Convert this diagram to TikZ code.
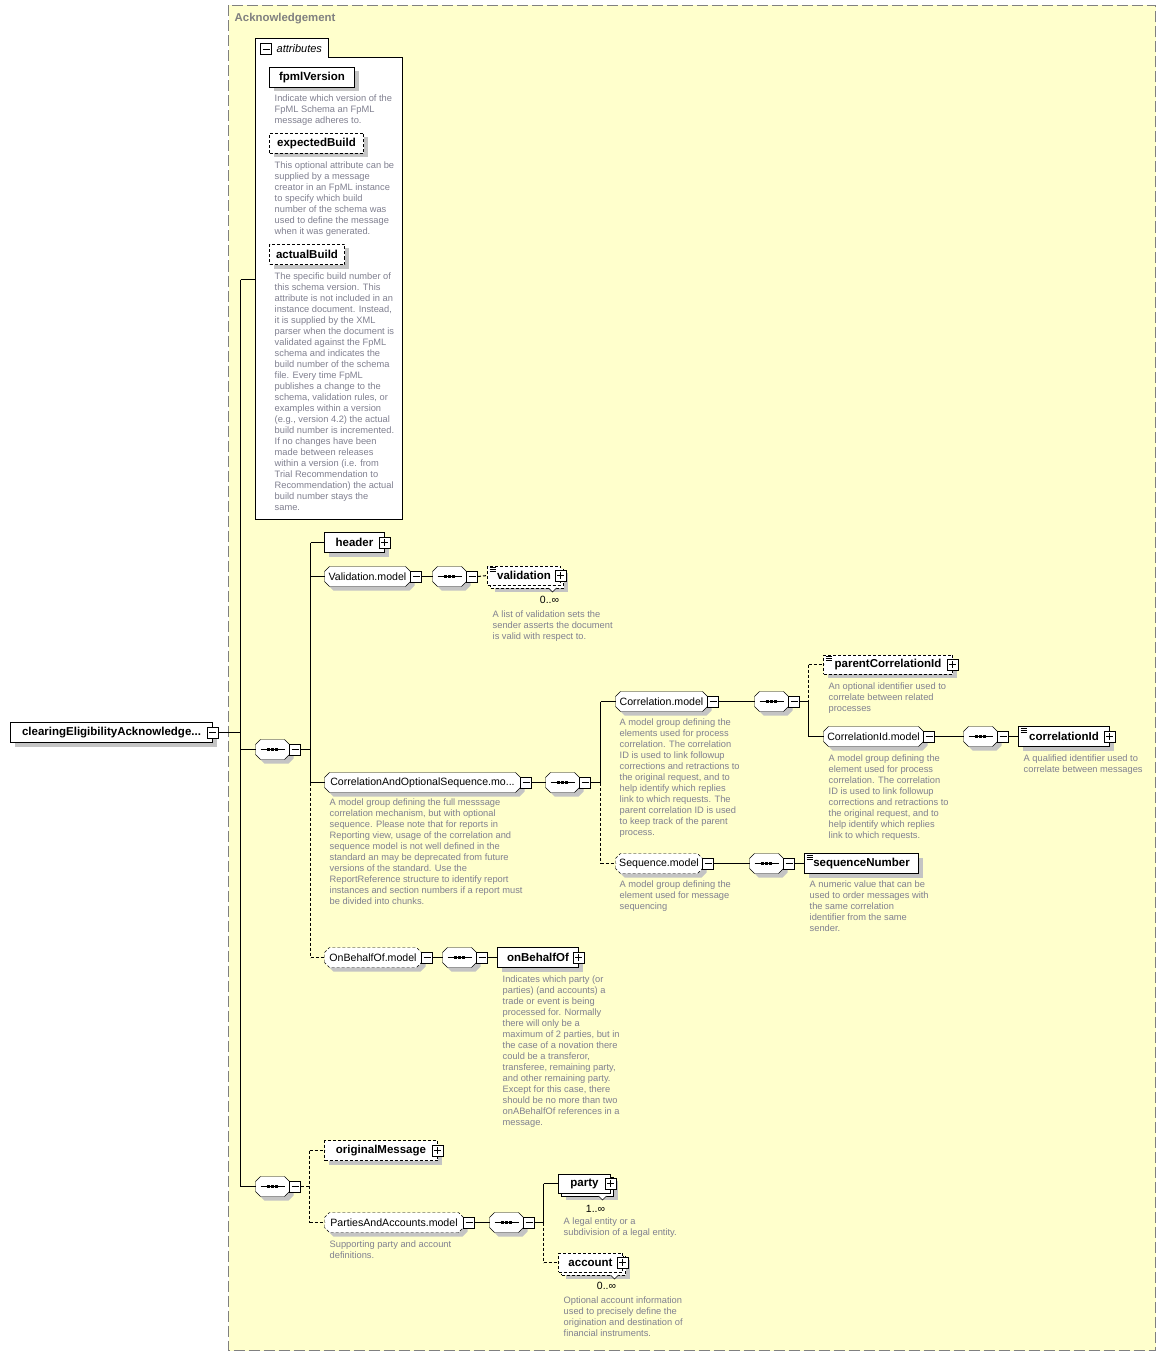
\documentclass[tikz,border=0pt]{standalone}
\usepackage{fontspec}
\setmainfont{Liberation Sans}
\usepackage{tikz}
\usetikzlibrary{fit}

\definecolor{paper}{RGB}{255,255,204}
\definecolor{frame}{RGB}{128,128,128}
\definecolor{shadowgray}{RGB}{196,196,196}
\definecolor{desctext}{RGB}{128,128,144}

\pgfdeclarelayer{bottom}
\pgfdeclarelayer{shadow}
\pgfsetlayers{bottom,shadow,main}

% octagon box for model groups and compositors
\makeatletter
\newdimen\octl \newdimen\octr \newdimen\octb \newdimen\octt
\pgfdeclareshape{octobox}{%
  \inheritsavedanchors[from=rectangle]%
  \inheritanchorborder[from=rectangle]%
  \inheritanchor[from=rectangle]{center}%
  \inheritanchor[from=rectangle]{north}%
  \inheritanchor[from=rectangle]{south}%
  \inheritanchor[from=rectangle]{west}%
  \inheritanchor[from=rectangle]{east}%
  \inheritanchor[from=rectangle]{north west}%
  \inheritanchor[from=rectangle]{north east}%
  \inheritanchor[from=rectangle]{south west}%
  \inheritanchor[from=rectangle]{south east}%
  \inheritanchor[from=rectangle]{base}%
  \inheritanchor[from=rectangle]{mid}%
  \backgroundpath{%
    \southwest \global\octl=\pgf@x \global\octb=\pgf@y
    \northeast \global\octr=\pgf@x \global\octt=\pgf@y
    \pgfpathmoveto{\pgfqpoint{\octl}{\dimexpr\octb+5pt\relax}}%
    \pgfpathlineto{\pgfqpoint{\octl}{\dimexpr\octt-5pt\relax}}%
    \pgfpathlineto{\pgfqpoint{\dimexpr\octl+5pt\relax}{\octt}}%
    \pgfpathlineto{\pgfqpoint{\dimexpr\octr-5pt\relax}{\octt}}%
    \pgfpathlineto{\pgfqpoint{\octr}{\dimexpr\octt-5pt\relax}}%
    \pgfpathlineto{\pgfqpoint{\octr}{\dimexpr\octb+5pt\relax}}%
    \pgfpathlineto{\pgfqpoint{\dimexpr\octr-5pt\relax}{\octb}}%
    \pgfpathlineto{\pgfqpoint{\dimexpr\octl+5pt\relax}{\octb}}%
    \pgfpathclose
  }%
}
\makeatother

\begin{document}
\begin{tikzpicture}[x=1pt, y=-1pt, line width=1pt,
    box/.style={draw, fill=white, rectangle, minimum height=20pt, inner sep=0pt, outer sep=0pt, anchor=west,
        font=\fontsize{11.5}{13}\selectfont\bfseries},
    elem/.style={box},
    opt/.style={dash pattern=on 3pt off 2pt},
    grp/.style={octobox, draw, fill=white, minimum height=20pt, inner sep=0pt, outer sep=0pt,
        anchor=west, font=\fontsize{10.6}{12}\selectfont},
    seqgrp/.style={grp, minimum width=34pt, path picture={
        \draw ([xshift=5pt]path picture bounding box.west) -- ([xshift=-5pt]path picture bounding box.east);
        \foreach \dx in {-4,0,4}
          \fill[black] ([xshift=\dx pt]path picture bounding box.center) +(-1.3pt,-1.3pt) rectangle +(1.3pt,1.3pt);}},
    pm/.style={draw, fill=white, line width=1pt, minimum size=11pt, inner sep=0pt},
    minus/.style={pm, path picture={
        \draw ([xshift=2pt]path picture bounding box.west) -- ([xshift=-2pt]path picture bounding box.east);}},
    plus/.style={pm, path picture={
        \draw ([xshift=2pt]path picture bounding box.west) -- ([xshift=-2pt]path picture bounding box.east);
        \draw ([yshift=-2pt]path picture bounding box.north) -- ([yshift=2pt]path picture bounding box.south);}},
    shadowbox/.style={fill=shadowgray, inner sep=0pt, outer sep=0pt, xshift=4pt, yshift=-4pt},
    wire/.style={line width=1pt},
    optwire/.style={wire, opt},
    desc/.style={anchor=north west, inner sep=0pt, align=left, text=desctext,
        font=\fontsize{9.3}{11}\selectfont},
    card/.style={inner sep=0pt, font=\fontsize{10.5}{12}\selectfont}]
    \useasboundingbox (-0.5,-0.5) rectangle (1164.5,1355.5);

    % Frame and attributes
    \begin{pgfonlayer}{bottom}
      \fill[white] (-0.5,-0.5) rectangle (1164.5,1355.5);
      \draw[frame, fill=paper, dash pattern=on 11pt off 4pt] (228,5) rectangle (1155,1350);
      \draw[fill=white] (255,519) -- (255,38) -- (328,38) -- (328,57) -- (402,57) -- (402,519) -- cycle;
    \end{pgfonlayer}
    \node[anchor=west, inner sep=0pt, text=frame, font=\fontsize{11.4}{13}\selectfont\bfseries] (ack) at (234,18) {Acknowledgement};
    \node[minus] (attr-m) at (265.5,49) {};
    \node[anchor=west, inner sep=0pt, font=\fontsize{11}{13}\selectfont\itshape] (attr-t) at (276,48) {attributes};
    \coordinate (attr-in) at (255,279);

    \node[elem, minimum width=85] (fpml) at (269,77) {fpmlVersion};
    \node[desc] (fpml-d) at (274,94.5) {Indicate which version of the\\FpML Schema an FpML\\message adheres to.};
    \node[elem, opt, minimum width=94] (expb) at (269,143) {expectedBuild};
    \node[desc] (expb-d) at (274,161.5) {This optional attribute can be\\supplied by a message\\creator in an FpML instance\\to specify which build\\number of the schema was\\used to define the message\\when it was generated.};
    \node[elem, opt, minimum width=75] (actb) at (269,254) {actualBuild};
    \node[desc] (actb-d) at (274,272.5) {The specific build number of\\this schema version. This\\attribute is not included in an\\instance document. Instead,\\it is supplied by the XML\\parser when the document is\\validated against the FpML\\schema and indicates the\\build number of the schema\\file. Every time FpML\\publishes a change to the\\schema, validation rules, or\\examples within a version\\(e.g., version 4.2) the actual\\build number is incremented.\\If no changes have been\\made between releases\\within a version (i.e. from\\Trial Recommendation to\\Recommendation) the actual\\build number stays the\\same.};

    % Root and first sequence
    \node[elem, minimum width=202] (root) at (10,732) {clearingEligibilityAcknowledge...};
    \node[minus] (root-m) at (root.east) {};
    \node[seqgrp] (seq1) at (255,749) {};
    \node[minus] (seq1-m) at ([xshift=5.5pt]seq1.east) {};

    \node[elem, minimum width=60] (header) at (324,542) {header};
    \node[plus] (header-p) at (header.east) {};

    \node[grp, minimum width=86] (valm) at (324,576) {Validation.model};
    \node[minus] (valm-m) at ([xshift=5.5pt]valm.east) {};
    \node[seqgrp] (valm-seq) at (432,576) {};
    \node[minus] (valm-seq-m) at ([xshift=5.5pt]valm-seq.east) {};
    \node[box, opt, minimum width=73, minimum height=19] (val-bk) at (490,578) {};
    \node[box, opt, minimum width=73, minimum height=19] (val) at (487,575) {validation};
    \node[plus] (val-p) at (val.east) {};
    \node[card] (val-c) at (549,599) {0..∞};
    \node[desc] (val-d) at (492,610.5) {A list of validation sets the\\sender asserts the document\\is valid with respect to.};

    \node[grp, minimum width=196] (cas) at (324,782) {CorrelationAndOptionalSequence.mo...};
    \node[minus] (cas-m) at ([xshift=5.5pt]cas.east) {};
    \node[desc] (cas-d) at (329,798.5) {A model group defining the full messsage\\correlation mechanism, but with optional\\sequence. Please note that for reports in\\Reporting view, usage of the correlation and\\sequence model is not well defined in the\\standard an may be deprecated from future\\versions of the standard. Use the\\ReportReference structure to identify report\\instances and section numbers if a report must\\be divided into chunks.};
    \node[seqgrp] (cas-seq) at (545,782) {};
    \node[minus] (cas-seq-m) at ([xshift=5.5pt]cas-seq.east) {};

    % Correlation
    \node[grp, minimum width=92] (corm) at (615,701) {Correlation.model};
    \node[minus] (corm-m) at ([xshift=5.5pt]corm.east) {};
    \node[desc] (corm-d) at (619,718.5) {A model group defining the\\elements used for process\\correlation. The correlation\\ID is used to link followup\\corrections and retractions to\\the original request, and to\\help identify which replies\\link to which requests. The\\parent correlation ID is used\\to keep track of the parent\\process.};
    \node[seqgrp] (corm-seq) at (754,701) {};
    \node[minus] (corm-seq-m) at ([xshift=5.5pt]corm-seq.east) {};

    \node[elem, opt, minimum width=129, minimum height=19] (pcid) at (823,664) {parentCorrelationId};
    \node[plus] (pcid-p) at (pcid.east) {};
    \node[desc] (pcid-d) at (828,682.5) {An optional identifier used to\\correlate between related\\processes};

    \node[grp, minimum width=100] (cidm) at (823,736) {CorrelationId.model};
    \node[minus] (cidm-m) at ([xshift=5.5pt]cidm.east) {};
    \node[desc] (cidm-d) at (828,754.5) {A model group defining the\\element used for process\\correlation. The correlation\\ID is used to link followup\\corrections and retractions to\\the original request, and to\\help identify which replies\\link to which requests.};
    \node[seqgrp] (cidm-seq) at (963,736) {};
    \node[minus] (cidm-seq-m) at ([xshift=5.5pt]cidm-seq.east) {};
    \node[elem, minimum width=91] (cid) at (1018,736) {correlationId};
    \node[plus] (cid-p) at (cid.east) {};
    \node[desc] (cid-d) at (1023,754.5) {A qualified identifier used to\\correlate between messages};

    % Sequence
    \node[grp, opt, minimum width=87] (seqm) at (615,863) {Sequence.model};
    \node[minus] (seqm-m) at ([xshift=5.5pt]seqm.east) {};
    \node[desc] (seqm-d) at (619,880.5) {A model group defining the\\element used for message\\sequencing};
    \node[seqgrp] (seqm-seq) at (749,863) {};
    \node[minus] (seqm-seq-m) at ([xshift=5.5pt]seqm-seq.east) {};
    \node[elem, minimum width=114] (sqn) at (804,863) {sequenceNumber};
    \node[desc] (sqn-d) at (809,880.5) {A numeric value that can be\\used to order messages with\\the same correlation\\identifier from the same\\sender.};

    % On behalf of
    \node[grp, opt, minimum width=97] (obo) at (324,957) {OnBehalfOf.model};
    \node[minus] (obo-m) at ([xshift=5.5pt]obo.east) {};
    \node[seqgrp] (obo-seq) at (442,957) {};
    \node[minus] (obo-seq-m) at ([xshift=5.5pt]obo-seq.east) {};
    \node[elem, minimum width=81] (obe) at (497,957) {onBehalfOf};
    \node[plus] (obe-p) at (obe.east) {};
    \node[desc] (obe-d) at (502,975.5) {Indicates which party (or\\parties) (and accounts) a\\trade or event is being\\processed for. Normally\\there will only be a\\maximum of 2 parties, but in\\the case of a novation there\\could be a transferor,\\transferee, remaining party,\\and other remaining party.\\Except for this case, there\\should be no more than two\\onABehalfOf references in a\\message.};

    % Second sequence
    \node[seqgrp] (seq2) at (255,1186) {};
    \node[minus] (seq2-m) at ([xshift=5.5pt]seq2.east) {};
    \node[elem, opt, minimum width=113] (orig) at (324,1150) {originalMessage};
    \node[plus] (orig-p) at (orig.east) {};
    \node[grp, opt, minimum width=139] (paa) at (324,1222) {PartiesAndAccounts.model};
    \node[minus] (paa-m) at ([xshift=5.5pt]paa.east) {};
    \node[desc] (paa-d) at (329,1240.5) {Supporting party and account\\definitions.};
    \node[seqgrp] (paa-seq) at (489,1222) {};
    \node[minus] (paa-seq-m) at ([xshift=5.5pt]paa-seq.east) {};

    \node[box, minimum width=52, minimum height=19] (party-bk) at (561,1186) {};
    \node[box, minimum width=52, minimum height=19] (party) at (558,1183) {party};
    \node[plus] (party-p) at (party.east) {};
    \node[card] (party-c) at (595,1208) {1..∞};
    \node[desc] (party-d) at (563,1217.5) {A legal entity or a\\subdivision of a legal entity.};
    \node[box, opt, minimum width=64, minimum height=19] (acct-bk) at (561,1265) {};
    \node[box, opt, minimum width=64, minimum height=19] (acct) at (558,1262) {account};
    \node[plus] (acct-p) at (acct.east) {};
    \node[card] (acct-c) at (606,1285) {0..∞};
    \node[desc] (acct-d) at (563,1296.5) {Optional account information\\used to precisely define the\\origination and destination of\\financial instruments.};

    % Shadows
    \begin{pgfonlayer}{shadow}
      \foreach \n in {fpml, expb, actb, root, header, val-bk, pcid, cid, sqn, obe, orig, party-bk, acct-bk}
        \node[shadowbox, fit=(\n)] (\n-sh) {};
      \foreach \n in {seq1, valm, valm-seq, cas, cas-seq, corm, corm-seq, cidm, cidm-seq,
                      seqm, seqm-seq, obo, obo-seq, seq2, paa, paa-seq}
        \node[octobox, shadowbox, fit=(\n)] (\n-sh) {};
    \end{pgfonlayer}

    % Icons and notches
    \foreach \n in {val, pcid, cid, sqn}
      \foreach \dy in {1.5,3.5,5.5}
        \draw[line width=0.8pt] ([shift={(2pt,-\dy pt)}]\n.north west) -- ++(6pt,0);
    \foreach \n in {val-bk, party-bk, acct-bk}
      \draw[line width=0.6pt, fill=white] ([xshift=-15pt]\n.south east) -- ++(4,4) -- ++(4,-4);

    % Connectors
    \coordinate (trunk-top) at (240,279);
    \coordinate (trunk-bot) at (240,1186);
    \draw[wire] (trunk-top) -- (trunk-bot);
    \draw[wire] (trunk-top) -- (attr-in);
    \draw[wire] (root-m.east) -- (root-m.east -| trunk-top);
    \draw[wire] (seq1.west -| trunk-top) -- (seq1.west);
    \draw[wire] (trunk-bot) -- (seq2.west);

    \coordinate (br1) at (310,749);
    \draw[wire] (seq1-m.east) -- (br1);
    \draw[wire] (br1 |- header.west) -- (br1 |- cas.west);
    \draw[optwire] (br1 |- cas.west) -- (br1 |- obo.west);
    \foreach \n in {header, valm, cas}
      \draw[wire] (br1 |- \n.west) -- (\n.west);
    \draw[optwire] (br1 |- obo.west) -- (obo.west);

    \draw[wire] (valm-m.east) -- (valm-seq.west);
    \draw[optwire] (valm-seq-m.east) -- (val.west);

    \coordinate (br2) at (600,782);
    \draw[wire] (cas-m.east) -- (cas-seq.west);
    \draw[wire] (cas-seq-m.east) -- (br2);
    \draw[wire] (br2 |- corm.west) -- (br2);
    \draw[optwire] (br2) -- (br2 |- seqm.west);
    \draw[wire] (br2 |- corm.west) -- (corm.west);
    \draw[optwire] (br2 |- seqm.west) -- (seqm.west);

    \coordinate (br3) at (808,701);
    \draw[wire] (corm-m.east) -- (corm-seq.west);
    \draw[wire] (corm-seq-m.east) -- (br3);
    \draw[optwire] (br3 |- pcid.west) -- (br3);
    \draw[wire] (br3) -- (br3 |- cidm.west);
    \draw[optwire] (br3 |- pcid.west) -- (pcid.west);
    \draw[wire] (br3 |- cidm.west) -- (cidm.west);
    \draw[wire] (cidm-m.east) -- (cidm-seq.west);
    \draw[wire] (cidm-seq-m.east) -- (cid.west);

    \draw[wire] (seqm-m.east) -- (seqm-seq.west);
    \draw[wire] (seqm-seq-m.east) -- (sqn.west);
    \draw[wire] (obo-m.east) -- (obo-seq.west);
    \draw[wire] (obo-seq-m.east) -- (obe.west);

    \coordinate (br4) at (309,1186);
    \draw[optwire] (seq2-m.east) -- (br4);
    \draw[optwire] (br4 |- orig.west) -- (br4 |- paa.west);
    \draw[optwire] (br4 |- orig.west) -- (orig.west);
    \draw[optwire] (br4 |- paa.west) -- (paa.west);

    \coordinate (br5) at (543,1222);
    \draw[wire] (paa-m.east) -- (paa-seq.west);
    \draw[wire] (paa-seq-m.east) -- (br5);
    \draw[wire] (br5 |- party.west) -- (br5);
    \draw[optwire] (br5) -- (br5 |- acct.west);
    \draw[wire] (br5 |- party.west) -- (party.west);
    \draw[optwire] (br5 |- acct.west) -- (acct.west);
\end{tikzpicture}
\end{document}
